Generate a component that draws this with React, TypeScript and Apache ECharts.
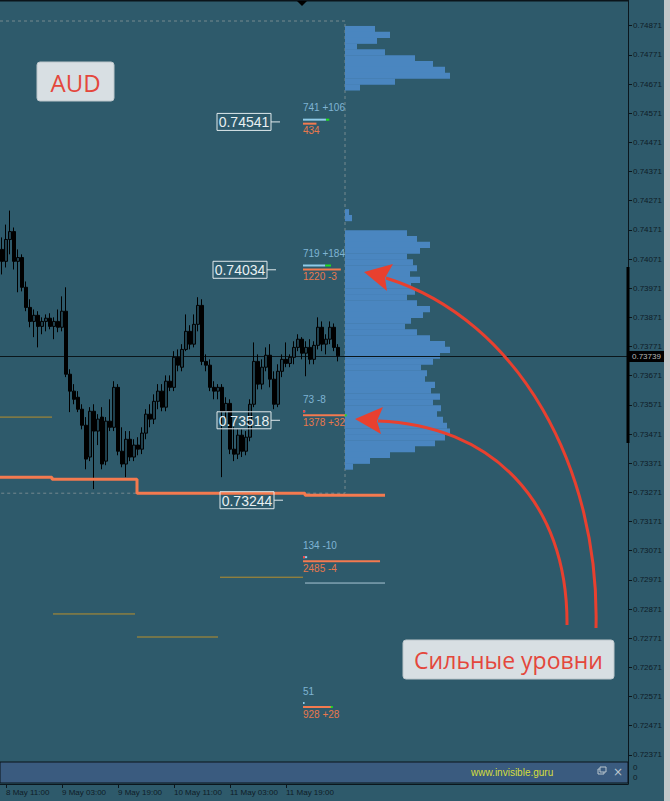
import React, { useEffect, useRef } from 'react';
import * as echarts from 'echarts';

// ---------- candles (AUDUSD) ----------
const opens = [0.74104,0.74063,0.74138,0.74165,0.74063,0.74076,0.73974,0.73905,0.73857,0.73878,0.73840,0.73857,0.73868,0.73840,0.73857,0.73837,0.73892,0.73676,0.73618,0.73597,0.73556,0.73501,0.73392,0.73549,0.73481,0.73529,0.73378,0.73515,0.73494,0.73631,0.73412,0.73368,0.73453,0.73392,0.73433,0.73419,0.73474,0.73539,0.73522,0.73583,0.73618,0.73563,0.73652,0.73631,0.73734,0.73700,0.73761,0.73823,0.73779,0.73847,0.73912,0.73720,0.73707,0.73631,0.73618,0.73631,0.73549,0.73576,0.73419,0.73402,0.73467,0.73412,0.73460,0.73573,0.73720,0.73642,0.73700,0.73741,0.73659,0.73573,0.73686,0.73727,0.73713,0.73734,0.73768,0.73796,0.73748,0.73768,0.73727,0.73775,0.73837,0.73779,0.73796,0.73837,0.73768];
const highs = [0.74145,0.74189,0.74237,0.74179,0.74104,0.74087,0.73994,0.73933,0.73898,0.73892,0.73871,0.73881,0.73885,0.73871,0.73898,0.73943,0.73974,0.73693,0.73642,0.73618,0.73573,0.73529,0.73563,0.73573,0.73539,0.73563,0.73529,0.73590,0.73652,0.73642,0.73494,0.73481,0.73481,0.73453,0.73460,0.73494,0.73556,0.73573,0.73607,0.73642,0.73642,0.73672,0.73672,0.73755,0.73761,0.73779,0.73881,0.73844,0.73881,0.73940,0.73933,0.73744,0.73727,0.73652,0.73642,0.73642,0.73597,0.73590,0.73494,0.73487,0.73487,0.73481,0.73590,0.73785,0.73744,0.73727,0.73768,0.73779,0.73686,0.73710,0.73744,0.73785,0.73744,0.73789,0.73813,0.73803,0.73789,0.73796,0.73789,0.73871,0.73857,0.73813,0.73857,0.73850,0.73779];
const lows = [0.74018,0.74042,0.74087,0.74035,0.73957,0.73960,0.73892,0.73837,0.73803,0.73768,0.73813,0.73823,0.73830,0.73796,0.73820,0.73823,0.73666,0.73546,0.73573,0.73546,0.73487,0.73350,0.73378,0.73282,0.73433,0.73350,0.73364,0.73481,0.73481,0.73398,0.73357,0.73323,0.73378,0.73378,0.73398,0.73402,0.73453,0.73494,0.73505,0.73556,0.73549,0.73549,0.73618,0.73618,0.73686,0.73686,0.73755,0.73761,0.73768,0.73823,0.73707,0.73686,0.73618,0.73590,0.73590,0.73323,0.73522,0.73402,0.73378,0.73385,0.73392,0.73398,0.73446,0.73563,0.73624,0.73624,0.73686,0.73631,0.73556,0.73563,0.73666,0.73700,0.73700,0.73710,0.73755,0.73727,0.73669,0.73710,0.73710,0.73761,0.73755,0.73744,0.73779,0.73755,0.73720];
const closes = [0.74063,0.74138,0.74165,0.74063,0.74076,0.73974,0.73905,0.73857,0.73878,0.73840,0.73857,0.73868,0.73840,0.73857,0.73837,0.73892,0.73676,0.73618,0.73590,0.73556,0.73501,0.73385,0.73549,0.73481,0.73522,0.73368,0.73515,0.73494,0.73631,0.73412,0.73368,0.73453,0.73392,0.73433,0.73419,0.73474,0.73539,0.73522,0.73583,0.73618,0.73563,0.73652,0.73631,0.73734,0.73707,0.73761,0.73823,0.73779,0.73847,0.73912,0.73720,0.73707,0.73631,0.73618,0.73631,0.73549,0.73576,0.73419,0.73402,0.73467,0.73412,0.73460,0.73573,0.73720,0.73642,0.73700,0.73741,0.73659,0.73573,0.73686,0.73727,0.73713,0.73734,0.73768,0.73796,0.73748,0.73768,0.73727,0.73775,0.73837,0.73779,0.73796,0.73837,0.73768,0.73739];

const BAR_SLOTS = 157;
const timeLabels = ['8 May 11:00', '9 May 03:00', '9 May 19:00', '10 May 11:00', '11 May 03:00', '11 May 19:00'];
const timeLabelBars = [1, 15, 29, 43, 57, 71];
const categories = Array.from({ length: BAR_SLOTS }, (_, i) => {
  const k = timeLabelBars.indexOf(i);
  return k >= 0 ? timeLabels[k] : 'b' + i;
});

const lastPrice = 0.73739;

// ---------- price axis ----------
const yMin = 0.72271;
const yMax = 0.74959;
const yStep = 0.001;

// ---------- strong levels ----------
const levelPrices = [0.74541, 0.74034, 0.73518, 0.73244];
const levelBoxRightSlot = [67.75, 66.75, 67.75, 68.5];

// ---------- volume clusters ----------
const clusterPrices = [0.74535, 0.74035, 0.73535, 0.73035, 0.72535];
const clusterTopVol = [741, 719, 73, 134, 51];
const clusterTopDelta = [106, 184, -8, -10, 0];
const clusterBotVol = [434, 1220, 1378, 2485, 928];
const clusterBotDelta = [0, -3, 32, -4, 28];

// ---------- orange step line (weekly low) ----------
const stepStartSlots = [0, 13, 34.25, 76.25];
const stepLevels = [0.73323, 0.73316, 0.73268, 0.73261];
const stepEndSlot = 96.25;

// ---------- daily thin lines ----------
const dayStartSlots = [0, 13.25, 34.25, 55, 76.25];
const dayEndSlots = [13, 33.75, 54.5, 75.75, 96.25];
const dayPrices = [0.73529, 0.72854, 0.72775, 0.72980, 0.72960];
const dayColors = ['#b8902c', '#b8902c', '#b8902c', '#b8902c', '#a9c6d4'];

// ---------- profile range box ----------
const boxTop = 0.74887;
const boxBottom = 0.73268;
const boxRightSlot = 86.25;

// ---------- volume profile ----------
const profileBin = 0.0002;
const profilePrices = [0.74860,0.74840,0.74820,0.74800,0.74780,0.74760,0.74740,0.74720,0.74700,0.74680,0.74660,
  0.74232,0.74212,
  0.74160,0.74140,0.74120,0.74100,0.74080,0.74060,0.74040,0.74020,0.74000,0.73980,0.73960,0.73940,0.73920,0.73900,0.73880,0.73860,0.73840,0.73820,0.73800,0.73780,0.73760,0.73740,0.73720,0.73700,0.73680,0.73660,0.73640,0.73620,0.73600,0.73580,0.73560,0.73540,0.73520,0.73500,0.73480,0.73460,0.73440,0.73420,0.73400,0.73380,0.73360];
const profileVolumes = [30,45,32,12,40,70,88,100,105,50,15,
  4,7,
  62,72,85,75,62,68,72,65,75,66,70,62,72,85,78,66,60,72,85,100,105,95,88,76,82,80,90,86,95,88,96,92,98,102,105,100,90,70,45,25,8];

const BG = '#2e5a6b';
const AXIS_TXT = '#0e1c27';
const ARROW = '#e8402f';

function buildOption(): any {
  const stepData: any[] = stepStartSlots.map((s, i) => [s, stepLevels[i]]);
  stepData.push([stepEndSlot, stepLevels[stepLevels.length - 1]]);

  const txt = (text: string, x: number, y: number, fill: string, font: string, align = 'left', z = 101) => ({
    type: 'text', z,
    style: { text, x, y, fill, font, textAlign: align, textVerticalAlign: 'middle' },
  });

  return {
    animation: false,
    backgroundColor: BG,
    grid: { left: 0, top: 0, width: 628, height: 784, outerBoundsMode: 'none', containLabel: false },
    xAxis: [
      {
        type: 'category', data: categories, boundaryGap: true, gridIndex: 0,
        axisLine: { show: true, onZero: false, lineStyle: { color: '#0b161d', width: 1 } },
        axisTick: { show: true, alignWithLabel: true, length: 4, interval: (i: number) => timeLabelBars.includes(i), lineStyle: { color: '#0b161d' } },
        axisLabel: { interval: (i: number) => timeLabelBars.includes(i), align: 'left', color: AXIS_TXT, fontSize: 8, fontFamily: 'Liberation Sans', margin: 4 },
        splitLine: { show: false },
      },
      { type: 'value', min: 0, max: BAR_SLOTS, show: false, gridIndex: 0, axisLine: { onZero: false } },
      { type: 'value', min: -345, max: 283, show: false, gridIndex: 0, axisLine: { onZero: false } },
      { type: 'value', min: -9774, max: 10484, show: false, gridIndex: 0, axisLine: { onZero: false } },
    ],
    yAxis: [
      {
        type: 'value', position: 'right', min: yMin, max: yMax, interval: yStep, scale: true,
        axisLine: { show: true, onZero: false, lineStyle: { color: '#0b161d', width: 1 } },
        axisTick: { show: true, length: 4, lineStyle: { color: '#0b161d' } },
        axisLabel: {
          color: AXIS_TXT, fontSize: 8, fontFamily: 'Liberation Sans', margin: 5,
          showMinLabel: false, showMaxLabel: false,
          formatter: (v: number) => v.toFixed(5),
        },
        splitLine: { show: false },
      },
    ],
    series: [
      {
        name: 'box', type: 'custom', xAxisIndex: 1, yAxisIndex: 0, z: 1, silent: true,
        data: [[boxRightSlot, boxTop, boxBottom]],
        renderItem: (params: any, api: any) => {
          const tl = api.coord([0, boxTop]);
          const tr = api.coord([boxRightSlot, boxTop]);
          const br = api.coord([boxRightSlot, boxBottom]);
          const bl = api.coord([0, boxBottom]);
          return {
            type: 'polyline',
            shape: { points: [tl, tr, br, bl] },
            style: { stroke: '#74898f', lineWidth: 1, lineDash: [3, 3], fill: null },
          };
        },
      },
      {
        name: 'profile', type: 'custom', xAxisIndex: 2, yAxisIndex: 0, z: 2, silent: true,
        encode: { x: 1, y: 0 },
        data: profilePrices.map((p, i) => [p, profileVolumes[i]]),
        renderItem: (params: any, api: any) => {
          const p = api.value(0);
          const v = api.value(1);
          const a = api.coord([0, p + profileBin / 2]);
          const b = api.coord([v, p - profileBin / 2]);
          return {
            type: 'rect',
            shape: { x: a[0], y: a[1], width: b[0] - a[0], height: b[1] - a[1] + 0.4 },
            style: { fill: '#4a86c0' },
          };
        },
      },
      {
        name: 'days', type: 'custom', xAxisIndex: 1, yAxisIndex: 0, z: 2, silent: true,
        data: dayPrices.map((p, i) => [dayStartSlots[i], p, dayEndSlots[i]]),
        renderItem: (params: any, api: any) => {
          const i = params.dataIndex;
          const a = api.coord([dayStartSlots[i], dayPrices[i]]);
          const b = api.coord([dayEndSlots[i], dayPrices[i]]);
          return {
            type: 'line',
            shape: { x1: a[0], y1: a[1], x2: b[0], y2: b[1] },
            style: { stroke: dayColors[i], lineWidth: 1 },
          };
        },
      },
      {
        name: 'lastPrice', type: 'custom', xAxisIndex: 1, yAxisIndex: 0, z: 3, silent: true,
        data: [[0, lastPrice]],
        renderItem: (params: any, api: any) => {
          const a = api.coord([0, lastPrice]);
          const b = api.coord([BAR_SLOTS, lastPrice]);
          const y = Math.round(a[1]) + 0.5;
          return {
            type: 'group',
            children: [
              { type: 'line', shape: { x1: a[0], y1: y, x2: b[0], y2: y }, style: { stroke: '#0a161b', lineWidth: 1 } },
              { type: 'rect', shape: { x: b[0] + 1, y: y - 5.5, width: 36, height: 11 }, style: { fill: '#000000' } },
              { type: 'text', style: { text: lastPrice.toFixed(5), x: b[0] + 4, y: y, fill: '#b8b8b8', font: '8px "Liberation Sans"', textVerticalAlign: 'middle' } },
            ],
          };
        },
      },
      {
        name: 'AUDUSD', type: 'candlestick', xAxisIndex: 0, yAxisIndex: 0, z: 3, barWidth: 3,
        data: opens.map((o, i) => [o, closes[i], lows[i], highs[i]]),
        itemStyle: { color: '#1f3f4c', color0: '#000000', borderColor: '#000000', borderColor0: '#000000', borderWidth: 1 },
      },
      {
        name: 'weekLow', type: 'line', xAxisIndex: 1, yAxisIndex: 0, z: 4, step: 'end',
        symbol: 'none', silent: true,
        data: stepData,
        lineStyle: { color: '#f47a4f', width: 3 },
      },
      {
        name: 'levels', type: 'custom', xAxisIndex: 1, yAxisIndex: 0, z: 5, silent: true,
        data: levelPrices.map((p, i) => [levelBoxRightSlot[i], p]),
        renderItem: (params: any, api: any) => {
          const c = api.coord([api.value(0), api.value(1)]);
          const w = 54, h = 17;
          const t = levelPrices[params.dataIndex].toFixed(5);
          return {
            type: 'group',
            children: [
              { type: 'rect', shape: { x: c[0] - w, y: c[1] - h / 2, width: w, height: h }, style: { fill: 'none', stroke: '#dfe9ec', lineWidth: 1 } },
              { type: 'text', style: { text: t, x: c[0] - w / 2, y: c[1] + 0.5, textAlign: 'center', textVerticalAlign: 'middle', fill: '#e8f0f2', font: '14px "Liberation Sans"' } },
              { type: 'line', shape: { x1: c[0], y1: c[1], x2: c[0] + 9, y2: c[1] }, style: { stroke: '#dfe9ec', lineWidth: 1 } },
            ],
          };
        },
      },
      {
        name: 'clusters', type: 'custom', xAxisIndex: 3, yAxisIndex: 0, z: 5, silent: true,
        data: clusterPrices.map((p) => [0, p]),
        renderItem: (params: any, api: any) => {
          const i = params.dataIndex;
          const p = clusterPrices[i];
          const o = api.coord([0, p]);
          const x0 = o[0], y0 = o[1];
          const xAt = (v: number) => api.coord([v, p])[0];
          const td = clusterTopDelta[i], bd = clusterBotDelta[i];
          const fmt = (v: number, d: number) => (d ? `${v} ${d > 0 ? '+' : ''}${d}` : `${v}`);
          const kids: any[] = [];
          kids.push({ type: 'text', style: { text: fmt(clusterTopVol[i], td), x: x0, y: y0 - 16, fill: '#7fb4d4', font: '10px "Liberation Sans"', textVerticalAlign: 'middle' } });
          const xt = xAt(clusterTopVol[i]);
          kids.push({ type: 'line', shape: { x1: x0, y1: y0 - 4, x2: xt, y2: y0 - 4 }, style: { stroke: '#8fcbe8', lineWidth: 2 } });
          if (td > 0) kids.push({ type: 'line', shape: { x1: xt, y1: y0 - 4, x2: xAt(clusterTopVol[i] + td), y2: y0 - 4 }, style: { stroke: '#1ee01e', lineWidth: 2 } });
          if (td < 0) kids.push({ type: 'line', shape: { x1: x0, y1: y0 - 4, x2: Math.max(xAt(-td), x0 + 2), y2: y0 - 4 }, style: { stroke: '#ff3b3b', lineWidth: 2 } });
          const xb = xAt(clusterBotVol[i]);
          kids.push({ type: 'line', shape: { x1: x0, y1: y0, x2: xb, y2: y0 }, style: { stroke: '#f47a4f', lineWidth: 2 } });
          if (bd > 0) kids.push({ type: 'line', shape: { x1: xb - 1, y1: y0, x2: Math.max(xAt(clusterBotVol[i] + bd), xb + 1), y2: y0 }, style: { stroke: '#1ee01e', lineWidth: 2 } });
          kids.push({ type: 'text', style: { text: fmt(clusterBotVol[i], bd), x: x0, y: y0 + 7, fill: '#e8784c', font: '10px "Liberation Sans"', textVerticalAlign: 'middle' } });
          return { type: 'group', children: kids };
        },
      },
    ],
    graphic: [
      { type: 'rect', z: 100, shape: { x: 664, y: 0, width: 6, height: 801 }, style: { fill: '#c4c8ca' } },
      { type: 'line', z: 100, shape: { x1: 0, y1: 0.5, x2: 628, y2: 0.5 }, style: { stroke: '#0b141a', lineWidth: 2 } },
      { type: 'polygon', z: 100, shape: { points: [[297, 1], [307, 1], [302, 6]] }, style: { fill: '#000000' } },
      { type: 'line', z: 100, shape: { x1: 628, y1: 267, x2: 628, y2: 443 }, style: { stroke: '#000000', lineWidth: 3 } },
      // sub-window
      { type: 'rect', z: 100, shape: { x: 0, y: 762, width: 628, height: 21 }, style: { fill: '#3a5b7f', stroke: '#0b141a', lineWidth: 1 } },
      txt('www.invisible.guru', 471, 772, '#d6df3c', '10px "Liberation Sans"'),
      { type: 'rect', z: 101, shape: { x: 598, y: 769, width: 6, height: 5 }, style: { fill: 'none', stroke: '#b9c6ce', lineWidth: 1 } },
      { type: 'rect', z: 101, shape: { x: 600, y: 767, width: 6, height: 5 }, style: { fill: '#3a5b7f', stroke: '#b9c6ce', lineWidth: 1 } },
      txt('×', 618, 772, '#b9c6ce', '12px "DejaVu Sans"', 'center'),
      txt('0', 633, 767, AXIS_TXT, '8px "Liberation Sans"'),
      txt('0', 633, 777, AXIS_TXT, '8px "Liberation Sans"'),
      // labels
      { type: 'rect', z: 100, shape: { x: 37, y: 62, width: 77, height: 39, r: 3 }, style: { fill: '#d8dfe3', stroke: '#bcc6cb', lineWidth: 1 } },
      txt('AUD', 75.5, 82, '#e4473c', '24px "Open Sans"', 'center'),
      { type: 'rect', z: 100, shape: { x: 403, y: 640, width: 211, height: 39, r: 3 }, style: { fill: '#d8dfe3', stroke: '#bcc6cb', lineWidth: 1 } },
      txt('Сильные уровни', 508.5, 660, '#e4473c', '23px "Open Sans"', 'center'),
      // arrows
      { type: 'bezierCurve', z: 102, shape: { x1: 596, y1: 628, cpx1: 600, cpy1: 470, cpx2: 520, cpy2: 320, x2: 386, y2: 278 }, style: { stroke: ARROW, lineWidth: 3, fill: null } },
      { type: 'polygon', z: 102, shape: { points: [[364, 272], [393, 264], [385, 278], [387, 291]] }, style: { fill: ARROW } },
      { type: 'bezierCurve', z: 102, shape: { x1: 567, y1: 625, cpx1: 568, cpy1: 500, cpx2: 490, cpy2: 425, x2: 378, y2: 421 }, style: { stroke: ARROW, lineWidth: 3, fill: null } },
      { type: 'polygon', z: 102, shape: { points: [[355, 419], [383, 407], [377, 421], [381, 434]] }, style: { fill: ARROW } },
    ],
  };
}

export default function App() {
  const ref = useRef<HTMLDivElement>(null);
  useEffect(() => {
    const chart = echarts.init(ref.current as HTMLDivElement, null, { renderer: 'svg' });
    chart.setOption(buildOption());
    return () => chart.dispose();
  }, []);
  return <div ref={ref} style={{ position: 'fixed', left: 0, top: 0, width: 670, height: 801 }} />;
}
